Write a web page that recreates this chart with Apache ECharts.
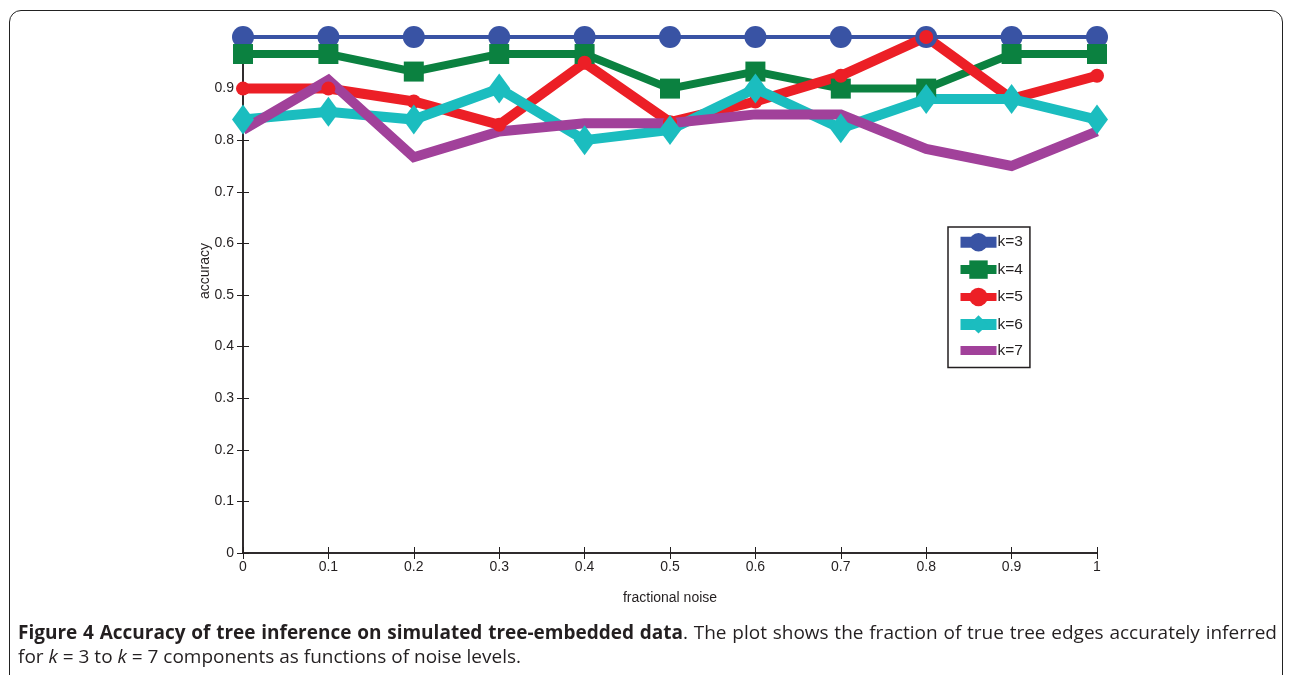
<!DOCTYPE html>
<html>
<head>
<meta charset="utf-8">
<script src="https://cdn.jsdelivr.net/npm/echarts@6/dist/echarts.min.js"></script>
<style>
  html, body { margin: 0; padding: 0; background: #fff; }
  #wrap { position: relative; width: 1290px; height: 675px; overflow: hidden; }
  #frame {
    position: absolute; left: 9px; top: 10px; width: 1274px; height: 700px;
    border: 1.5px solid #222; border-radius: 12px; box-sizing: border-box;
  }
  #chart { position: absolute; left: 0; top: 0; width: 1290px; height: 675px; }
  #caption {
    position: absolute; left: 18px; top: 620px; width: 1259px;
    font-family: "Open Sans", "Noto Sans", sans-serif; font-size: 19px;
    line-height: 24px; color: #231f20;
  }
  #caption .l1 { display: block; text-align: justify; text-align-last: justify; white-space: nowrap; }
  #caption .l2 { display: block; }
</style>
</head>
<body>
<div id="wrap">
  <div id="frame"></div>
  <div id="chart"></div>
  <div id="caption">
    <span class="l1"><b>Figure 4 Accuracy of tree inference on simulated tree-embedded data</b>. The plot shows the fraction of true tree edges accurately inferred</span>
    <span class="l2">for <i>k</i> = 3 to <i>k</i> = 7 components as functions of noise levels.</span>
  </div>
</div>
<script>
// fractional noise levels (x) and accuracy per number of components k
const noise = [0, 0.1, 0.2, 0.3, 0.4, 0.5, 0.6, 0.7, 0.8, 0.9, 1];
const k3 = [1, 1, 1, 1, 1, 1, 1, 1, 1, 1, 1];
const k4 = [0.967, 0.967, 0.933, 0.967, 0.967, 0.9, 0.933, 0.9, 0.9, 0.967, 0.967];
const k5 = [0.9, 0.9, 0.875, 0.83, 0.95, 0.835, 0.875, 0.925, 1.0, 0.88, 0.925];
const k6 = [0.84, 0.855, 0.84, 0.9, 0.8, 0.82, 0.9, 0.823, 0.88, 0.88, 0.84];
const k7 = [0.82, 0.917, 0.767, 0.817, 0.833, 0.833, 0.85, 0.85, 0.783, 0.75, 0.817];
const seriesNames = ['k=3', 'k=4', 'k=5', 'k=6', 'k=7'];

const pairs = ys => noise.map((x, i) => [x, ys[i]]);
const axisColor = '#231f20';
const labelFont = { fontFamily: 'Liberation Sans, Arial, sans-serif', fontSize: 14, color: axisColor };
const fmt = v => (Math.abs(v - 1) < 1e-9 ? '1' : (Math.abs(v) < 1e-9 ? '0' : v.toFixed(1)));

const baseAxis = {
  type: 'value', min: 0, max: 1, interval: 0.1,
  axisLine: { show: true, lineStyle: { color: axisColor, width: 1.5 } },
  axisTick: { show: true, inside: true, length: 6, lineStyle: { color: axisColor, width: 1 } },
  splitLine: { show: false }
};

const chart = echarts.init(document.getElementById('chart'), null, { renderer: 'canvas' });
chart.setOption({
  animation: false,
  grid: { left: 243, top: 37, width: 854, height: 516, containLabel: false },
  xAxis: [
    Object.assign({}, baseAxis, {
      position: 'bottom',
      name: 'fractional noise', nameLocation: 'middle', nameGap: 38,
      nameTextStyle: Object.assign({}, labelFont),
      axisLabel: Object.assign({ margin: 7, formatter: fmt }, labelFont)
    }),
    Object.assign({}, baseAxis, { position: 'top', axisLabel: { show: false } })
  ],
  yAxis: [
    Object.assign({}, baseAxis, {
      position: 'left',
      axisLabel: Object.assign({ margin: 9, formatter: v => (v >= 0.999 ? '' : fmt(v)) }, labelFont)
    }),
    Object.assign({}, baseAxis, { position: 'right', axisLabel: { show: false } })
  ],
  graphic: [{
    type: 'text', left: 198, top: 243, rotation: Math.PI / 2,
    style: { text: 'accuracy', font: '14px "Liberation Sans", Arial, sans-serif', fill: axisColor }
  }],
  legend: {
    orient: 'vertical', left: 948, top: 227,
    padding: [6, 7, 9, 7],
    itemWidth: 36, itemHeight: 23, itemGap: 9,
    borderColor: axisColor, borderWidth: 1.5, backgroundColor: '#fff',
    textStyle: Object.assign({}, labelFont, { fontSize: 15.5, padding: [0, 0, 0, -4] }),
    data: [
      { name: 'k=3', lineStyle: { width: 11 } },
      { name: 'k=4', lineStyle: { width: 9 } },
      { name: 'k=5', lineStyle: { width: 8 } },
      { name: 'k=6', lineStyle: { width: 11 } },
      { name: 'k=7', icon: 'path://M0,0H36V9H0Z' }
    ]
  },
  series: [
    { name: seriesNames[0], type: 'line', data: pairs(k3), clip: false,
      color: '#3953a4', symbol: 'circle', symbolSize: 22,
      lineStyle: { width: 4, join: 'miter' } },
    { name: seriesNames[1], type: 'line', data: pairs(k4), clip: false,
      color: '#0b8140', symbol: 'rect', symbolSize: 20,
      lineStyle: { width: 8, join: 'miter' } },
    { name: seriesNames[2], type: 'line', data: pairs(k5), clip: false,
      color: '#ec1f26', symbol: 'circle', symbolSize: 14,
      lineStyle: { width: 10, join: 'miter' } },
    { name: seriesNames[3], type: 'line', data: pairs(k6), clip: false,
      color: '#1bbdbf', symbol: 'diamond', symbolSize: [22, 30],
      lineStyle: { width: 10, join: 'miter' } },
    { name: seriesNames[4], type: 'line', data: pairs(k7), clip: false,
      color: '#a1419a', symbol: 'none',
      lineStyle: { width: 10, join: 'miter' } }
  ]
});
</script>
</body>
</html>
